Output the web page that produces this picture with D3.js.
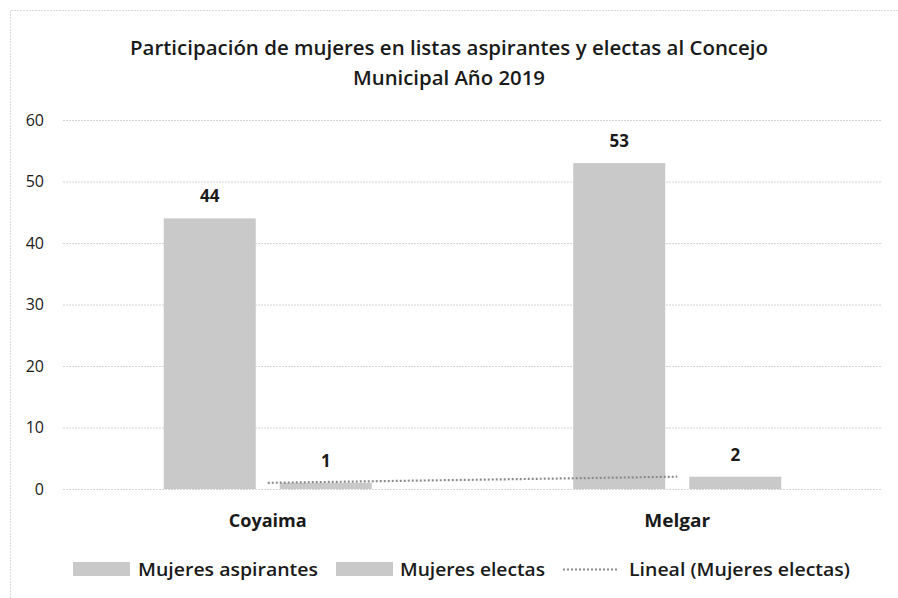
<!DOCTYPE html>
<meta charset="utf-8">
<script src="https://d3js.org/d3.v7.min.js"></script>
<style>
  body { margin: 0; background: #fff; }
  text { font-family: "Open Sans", "Noto Sans", sans-serif; fill: #1a1a1a; }
</style>
<div id="chart"></div>
<script>
// data
var categories = ["Coyaima", "Melgar"];
var aspirantes = [44, 53];
var electas = [1, 2];
var seriesNames = ["Mujeres aspirantes", "Mujeres electas"];
var yTicks = [0, 10, 20, 30, 40, 50, 60];
var titleLines = ["Participación de mujeres en listas aspirantes y electas al Concejo",
                  "Municipal Año 2019"];

var W = 898, H = 598;
var margin = {top: 120, right: 16, bottom: 109, left: 63};
var barColor = "#c9c9c9";
var gridColor = "#d4d4d4";

var svg = d3.select("#chart")
  .append("svg")
  .attr("width", W)
  .attr("height", H);

// chart frame (cropped on right and bottom)
svg.append("path")
  .attr("d", "M10.5," + H + " V10.5 H" + W)
  .attr("fill", "none")
  .attr("stroke", "#d9d9d9")
  .attr("stroke-dasharray", "2,1");

// title
svg.append("g").selectAll("text")
  .data(titleLines)
  .join("text")
  .attr("x", 449)
  .attr("y", (d, i) => 55 + i * 30)
  .attr("text-anchor", "middle")
  .attr("font-size", 20)
  .attr("font-weight", 600)
  .attr("textLength", (d, i) => i == 0 ? 638 : 192)
  .attr("lengthAdjust", "spacingAndGlyphs")
  .text(d => d);

var x = d3.scaleBand()
  .domain(categories)
  .range([margin.left, W - margin.right]);

var x1 = d3.scaleBand()
  .domain(seriesNames)
  .range([x.bandwidth() / 2 - 104, x.bandwidth() / 2 + 104])
  .paddingInner(0.207);

var y = d3.scaleLinear()
  .domain([0, 60])
  .range([H - margin.bottom, margin.top]);

// gridlines + y tick labels
var yAxis = svg.append("g")
  .attr("transform", "translate(" + margin.left + ",0)")
  .call(d3.axisLeft(y).tickValues(yTicks).tickSize(-(W - margin.left - margin.right)).tickPadding(19));
yAxis.select(".domain").remove();
yAxis.selectAll(".tick line")
  .attr("stroke", gridColor)
  .attr("stroke-dasharray", "2,1");
yAxis.selectAll(".tick text")
  .attr("font-size", 16)
  .attr("fill", "#333")
  .style("font-family", "'Open Sans', sans-serif");

// bars
var rows = categories.map((c, i) => ({cat: c, values: [aspirantes[i], electas[i]]}));

var groups = svg.append("g").selectAll("g")
  .data(rows)
  .join("g")
  .attr("transform", d => "translate(" + x(d.cat) + ",0)");

groups.selectAll("rect")
  .data(d => d.values.map((v, j) => ({name: seriesNames[j], value: v})))
  .join("rect")
  .attr("x", d => x1(d.name))
  .attr("y", d => y(d.value))
  .attr("width", x1.bandwidth())
  .attr("height", d => y(0) - y(d.value))
  .attr("fill", barColor);

groups.selectAll("text")
  .data(d => d.values.map((v, j) => ({name: seriesNames[j], value: v})))
  .join("text")
  .attr("x", d => x1(d.name) + x1.bandwidth() / 2)
  .attr("y", d => y(d.value) - 16)
  .attr("text-anchor", "middle")
  .attr("font-size", 17)
  .attr("font-weight", 700)
  .text(d => d.value);

// linear trendline for electas
var mx = d3.mean(electas, (d, i) => i), my = d3.mean(electas);
var slope = d3.sum(electas, (d, i) => (i - mx) * (d - my)) / d3.sum(electas, (d, i) => (i - mx) * (i - mx));
var icpt = my - slope * mx;
var trend = categories.map((c, i) => [x(c) + x.bandwidth() / 2, y(icpt + slope * i)]);
svg.append("path")
  .attr("d", d3.line()(trend))
  .attr("fill", "none")
  .attr("stroke", "#8c8c8c")
  .attr("stroke-width", 2.2)
  .attr("stroke-dasharray", "2,2");

// category labels
svg.append("g").selectAll("text")
  .data(categories)
  .join("text")
  .attr("x", d => x(d) + x.bandwidth() / 2)
  .attr("y", 527)
  .attr("text-anchor", "middle")
  .attr("font-size", 18)
  .attr("font-weight", 700)
  .attr("textLength", d => d == "Coyaima" ? 78 : 66)
  .attr("lengthAdjust", "spacingAndGlyphs")
  .text(d => d);

// legend
var legend = [
  {label: "Mujeres aspirantes", x: 73, type: "bar", tx: 138, tw: 180},
  {label: "Mujeres electas", x: 336, type: "bar", tx: 400, tw: 145},
  {label: "Lineal (Mujeres electas)", x: 563, type: "line", tx: 629, tw: 221}
];
var lg = svg.append("g").selectAll("g")
  .data(legend)
  .join("g");
lg.filter(d => d.type == "bar").append("rect")
  .attr("x", d => d.x)
  .attr("y", 562)
  .attr("width", 57)
  .attr("height", 14)
  .attr("fill", barColor);
lg.filter(d => d.type == "line").append("line")
  .attr("x1", d => d.x)
  .attr("x2", d => d.x + 55)
  .attr("y1", 569.5)
  .attr("y2", 569.5)
  .attr("stroke", "#8c8c8c")
  .attr("stroke-width", 2)
  .attr("stroke-dasharray", "2,2");
lg.append("text")
  .attr("x", d => d.tx)
  .attr("y", 576)
  .attr("font-size", 18)
  .attr("font-weight", 600)
  .attr("textLength", d => d.tw)
  .attr("lengthAdjust", "spacingAndGlyphs")
  .text(d => d.label);
</script>
